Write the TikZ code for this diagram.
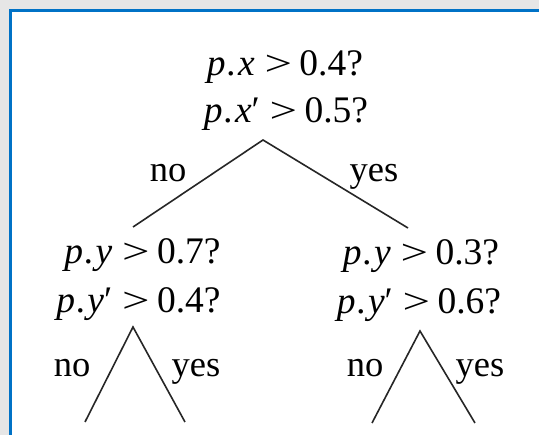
\documentclass[tikz,border=0pt]{standalone}
\usepackage{fontspec}
\usepackage{graphicx}
\setmainfont{Liberation Serif}
\definecolor{bggray}{HTML}{E6E6E6}
\definecolor{frameblue}{HTML}{0072C6}
\newcommand\cmpop{\hspace{0.26em}\scalebox{1.3}[0.95]{>}\hspace{0.2em}}
\newcommand\pvar[1]{\textit{p\kern1.5pt.\kern1.5pt #1}}
\begin{document}
\begin{tikzpicture}[x=1pt,y=-1pt,
  txt/.style={anchor=base,inner sep=0pt,font=\fontsize{37.5}{43}\selectfont},
  lbl/.style={anchor=base,inner sep=0pt,font=\fontsize{36.5}{43}\selectfont},
  branch/.style={draw=black!85,line width=1.6pt}]
\useasboundingbox (0,0) rectangle (539,435);
\clip (0,0) rectangle (539,435);
\fill[bggray] (0,0) rectangle (539,435);
\draw[frameblue,line width=3pt,fill=white] (10.5,10.5) rectangle (560,460);
% root
\node[txt] (q0a) at (285,76) {\pvar{x}\cmpop 0.4?};
\node[txt] (q0b) at (286,123) {\pvar{x}′\cmpop 0.5?};
% left child
\node[txt] (q1a) at (142.5,264) {\pvar{y}\cmpop 0.7?};
\node[txt] (q1b) at (138.5,313) {\pvar{y}′\cmpop 0.4?};
% right child
\node[txt] (q2a) at (421,265) {\pvar{y}\cmpop 0.3?};
\node[txt] (q2b) at (419,314) {\pvar{y}′\cmpop 0.6?};
% branch points
\coordinate (a0) at (263,140);
\coordinate (e0l) at (133,227);
\coordinate (e0r) at (408,228);
\coordinate (a1) at (133,327);
\coordinate (e1l) at (85,422);
\coordinate (e1r) at (185,422);
\coordinate (a2) at (420,331);
\coordinate (e2l) at (372,423);
\coordinate (e2r) at (475,423);
\draw[branch] (e0l) -- (a0) -- (e0r);
\draw[branch] (e1l) -- (a1) -- (e1r);
\draw[branch] (e2l) -- (a2) -- (e2r);
% labels
\node[lbl] (n0) at (168,182) {no};
\node[lbl] (y0) at (374,182) {yes};
\node[lbl] (n1) at (72,377) {no};
\node[lbl] (y1) at (196,377) {yes};
\node[lbl] (n2) at (365,377) {no};
\node[lbl] (y2) at (480,377) {yes};
\end{tikzpicture}
\end{document}
